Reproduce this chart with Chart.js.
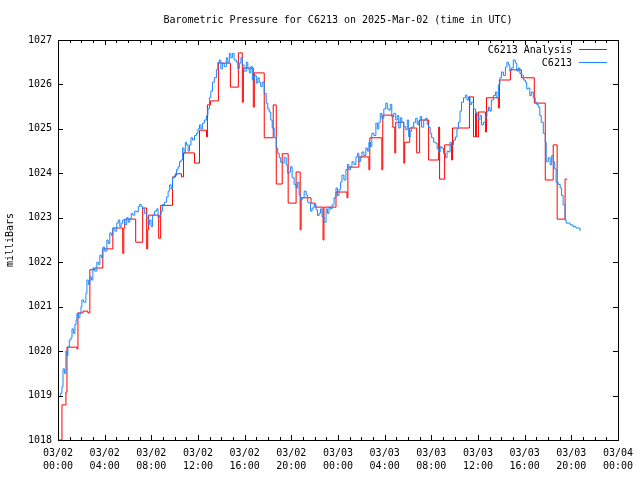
<!DOCTYPE html>
<html>
<head>
<meta charset="utf-8">
<title>Barometric Pressure for C6213</title>
<script src="https://cdn.jsdelivr.net/npm/chart.js@4.4.1/dist/chart.umd.min.js"></script>
<style>
  html, body { margin:0; padding:0; background:#fff; }
  #wrap { width:640px; height:480px; }
</style>
</head>
<body>
<div id="wrap"><canvas id="chart" width="640" height="480"></canvas></div>
<script>
// hours since 2025-03-02 00:00 UTC
const xTickHours = [0, 4, 8, 12, 16, 20, 24, 28, 32, 36, 40, 44, 48];
const xTickDates = ['03/02','03/02','03/02','03/02','03/02','03/02','03/03','03/03','03/03','03/03','03/03','03/03','03/04'];
const xTickTimes = ['00:00','04:00','08:00','12:00','16:00','20:00','00:00','04:00','08:00','12:00','16:00','20:00','00:00'];

// C6213 analysis (step values, hour where each value starts)
const anaHours = [0, 0.34, 0.68, 0.77, 1.62, 1.71, 2.14, 2.56, 2.73, 3.16, 3.84, 4.7, 5.55, 5.64, 5.72,
  6.66, 7.26, 7.6, 7.69, 7.77, 8.63, 8.8, 9.82, 10.08, 10.59, 10.76, 11.7, 12.13, 12.73, 12.81,
  13.07, 13.75, 14.78, 15.46, 15.8, 15.89, 16.74, 16.83, 17.68, 18.45, 18.71, 19.22, 19.73, 20.41,
  20.76, 20.84, 21.69, 22.04, 22.72, 22.8, 23.83, 24.77, 24.85, 25.79, 26.65, 26.73, 27.76, 27.84,
  28.7, 28.87, 28.95, 29.64, 29.72, 30.15, 30.75, 31.0, 31.77, 32.63, 32.71, 33.14, 33.74, 33.82,
  35.27, 35.62, 35.79, 35.87, 36.04, 36.64, 36.73, 37.75, 37.84, 38.78, 39.72, 40.83, 41.77, 42.45,
  42.79, 43.47, 43.65];
const anaPressure = [1018.0, 1018.79, 1019.08, 1020.09, 1020.05, 1020.86, 1020.9, 1020.86, 1021.83, 1021.87, 1022.3, 1022.77, 1022.2, 1022.77, 1022.97,
  1022.45, 1023.22, 1022.3, 1022.73, 1023.06, 1022.54, 1023.28, 1023.92, 1023.99, 1023.92, 1024.46, 1024.23, 1024.97, 1024.82, 1025.54,
  1025.63, 1026.48, 1025.94, 1026.71, 1025.6, 1026.37, 1025.49, 1026.26, 1024.8, 1025.54, 1023.76, 1024.44, 1023.33, 1024.03,
  1022.73, 1023.45, 1023.33, 1023.24, 1022.5, 1023.24, 1023.58, 1023.45, 1024.14, 1024.37, 1024.08, 1024.8, 1024.08, 1025.31,
  1025.04, 1024.46, 1025.15, 1024.23, 1024.7, 1025.02, 1024.46, 1025.2, 1024.3, 1025.04, 1023.87, 1024.64, 1024.3, 1025.02,
  1025.72, 1024.82, 1025.36, 1024.82, 1025.38, 1024.93, 1025.7, 1025.47, 1026.1, 1026.33, 1026.15, 1025.58, 1023.85, 1024.64,
  1022.97, 1023.87, 1023.87];

// C6213 observations
const obsHours = [0.09, 0.2, 0.34, 0.43, 0.55, 0.68, 0.77, 0.85, 0.97, 1.11, 1.2, 1.32, 1.45, 1.55, 1.62, 1.75, 1.88, 1.97,
  2.05, 2.2, 2.39, 2.48, 2.6, 2.73, 2.86, 2.99, 3.15, 3.33, 3.46, 3.59, 3.72, 3.84, 4.0, 4.19, 4.3, 4.44, 4.57, 4.7,
  4.87, 5.04, 5.17, 5.3, 5.42, 5.55, 5.72, 5.89, 6.02, 6.15, 6.28, 6.41, 6.58, 6.75, 6.88, 7.0, 7.13, 7.26, 7.43,
  7.6, 7.73, 7.86, 7.98, 8.11, 8.28, 8.46, 8.58, 8.71, 8.84, 8.97, 9.14, 9.31, 9.44, 9.57, 9.7, 9.82, 9.99, 10.16,
  10.29, 10.42, 10.55, 10.68, 10.8, 10.92, 11.02, 11.15, 11.27, 11.4, 11.53, 11.7, 11.87, 12.0, 12.13, 12.25, 12.38,
  12.55, 12.73, 12.85, 12.98, 13.1, 13.24, 13.4, 13.58, 13.7, 13.84, 13.96, 14.09, 14.25, 14.43, 14.55, 14.69, 14.82,
  14.95, 15.1, 15.29, 15.42, 15.54, 15.68, 15.8, 15.95, 16.14, 16.27, 16.4, 16.53, 16.66, 16.83, 17.0, 17.13, 17.25,
  17.38, 17.51, 17.68, 17.85, 17.98, 18.11, 18.24, 18.36, 18.53, 18.71, 18.83, 18.96, 19.09, 19.22, 19.39, 19.56,
  19.69, 19.82, 19.94, 20.07, 20.24, 20.41, 20.54, 20.67, 20.8, 20.93, 21.1, 21.27, 21.4, 21.52, 21.65, 21.78, 21.95,
  22.12, 22.25, 22.38, 22.5, 22.63, 22.8, 22.98, 23.1, 23.23, 23.36, 23.49, 23.66, 23.83, 23.96, 24.09, 24.22, 24.34,
  24.51, 24.68, 24.81, 24.94, 25.07, 25.2, 25.37, 25.54, 25.67, 25.79, 25.92, 26.05, 26.22, 26.39, 26.52, 26.65,
  26.78, 26.9, 27.08, 27.25, 27.38, 27.5, 27.63, 27.76, 27.93, 28.1, 28.23, 28.36, 28.48, 28.61, 28.78, 28.95, 29.08,
  29.21, 29.34, 29.47, 29.64, 29.81, 29.94, 30.06, 30.19, 30.32, 30.49, 30.66, 30.79, 30.92, 31.05, 31.17, 31.35,
  31.52, 31.65, 31.77, 31.9, 32.03, 32.2, 32.37, 32.5, 32.63, 32.76, 32.88, 33.05, 33.22, 33.35, 33.48, 33.61, 33.74,
  33.91, 34.08, 34.2, 34.33, 34.46, 34.59, 34.76, 34.93, 35.06, 35.19, 35.32, 35.45, 35.62, 35.79, 35.92, 36.04,
  36.17, 36.3, 36.47, 36.64, 36.77, 36.9, 37.02, 37.15, 37.32, 37.5, 37.62, 37.75, 37.88, 38.01, 38.18, 38.35, 38.48,
  38.61, 38.73, 38.86, 39.03, 39.2, 39.33, 39.46, 39.59, 39.72, 39.89, 40.06, 40.18, 40.31, 40.44, 40.57, 40.74,
  40.91, 41.04, 41.17, 41.3, 41.42, 41.6, 41.77, 41.85, 42.02, 42.19, 42.32, 42.45, 42.58, 42.7, 42.88, 43.05, 43.17,
  43.3, 43.47, 43.56, 43.73, 43.9, 44.15, 44.41, 44.75];
const obsPressure = [1018.97, 1019.05, 1019.2, 1019.6, 1019.5, 1020.0, 1019.9, 1020.1, 1020.25, 1020.3, 1020.5, 1020.4, 1020.6, 1020.7, 1020.85, 1020.75, 1020.85, 1021.0,
  1021.15, 1021.1, 1021.3, 1021.6, 1021.5, 1021.67, 1021.6, 1021.87, 1021.8, 1022.0, 1021.95, 1022.16, 1022.1, 1022.34, 1022.25, 1022.5, 1022.42, 1022.66, 1022.6, 1022.77,
  1022.7, 1022.88, 1022.95, 1022.8, 1022.88, 1022.95, 1022.85, 1023.0, 1022.9, 1022.98, 1023.1, 1023.06, 1023.15, 1023.13, 1023.25, 1023.3, 1023.25, 1023.2, 1023.1,
  1023.0, 1022.85, 1022.95, 1022.8, 1023.06, 1023.15, 1023.2, 1023.0, 1023.06, 1023.15, 1023.3, 1023.35, 1023.47, 1023.6, 1023.74, 1023.65, 1023.9, 1023.95, 1024.08,
  1024.15, 1024.26, 1024.3, 1024.57, 1024.45, 1024.7, 1024.64, 1024.5, 1024.64, 1024.8, 1024.75, 1024.85, 1024.9, 1025.0, 1025.09, 1025.0, 1025.13,
  1025.2, 1025.3, 1025.45, 1025.7, 1025.85, 1026.05, 1026.15, 1026.33, 1026.5, 1026.55, 1026.35, 1026.48, 1026.4, 1026.6, 1026.5, 1026.7, 1026.6,
  1026.7, 1026.55, 1026.5, 1026.35, 1026.48, 1026.6, 1026.44, 1026.3, 1026.5, 1026.35, 1026.26, 1026.4, 1026.1, 1026.2, 1026.03, 1026.15, 1026.05,
  1025.95, 1026.05, 1025.8, 1025.58, 1025.45, 1025.38, 1025.2, 1025.02, 1024.8, 1024.57, 1024.45, 1024.35, 1024.25, 1024.23, 1024.35, 1024.19,
  1024.0, 1024.03, 1024.15, 1023.9, 1023.75, 1023.67, 1023.8, 1023.51, 1023.4, 1023.45, 1023.6, 1023.51, 1023.35, 1023.33, 1023.15, 1023.22, 1023.3,
  1023.18, 1023.05, 1023.1, 1023.2, 1023.02, 1022.9, 1023.2, 1023.1, 1023.24, 1023.2, 1023.29, 1023.45, 1023.67, 1023.5, 1023.63, 1023.8, 1023.96,
  1023.85, 1024.08, 1024.2, 1024.08, 1024.15, 1024.26, 1024.2, 1024.37, 1024.45, 1024.26, 1024.35, 1024.48, 1024.4, 1024.57, 1024.5, 1024.7,
  1024.6, 1024.9, 1024.85, 1025.13, 1025.0, 1025.15, 1025.35, 1025.24, 1025.45, 1025.58, 1025.45, 1025.42, 1025.55, 1025.27, 1025.35, 1025.2, 1025.3,
  1025.02, 1025.25, 1025.15, 1025.05, 1024.98, 1025.2, 1024.82, 1024.95, 1025.04, 1025.15, 1025.24, 1025.1, 1025.18, 1025.28, 1025.04, 1025.2,
  1025.24, 1025.1, 1025.04, 1024.9, 1024.8, 1024.7, 1024.68, 1024.55, 1024.48, 1024.6, 1024.57, 1024.45, 1024.35, 1024.5, 1024.48, 1024.7, 1024.64,
  1024.75, 1024.82, 1025.0, 1025.15, 1025.4, 1025.6, 1025.7, 1025.76, 1025.65, 1025.72, 1025.55, 1025.6, 1025.45, 1025.38, 1025.3, 1025.2,
  1025.3, 1025.09, 1025.15, 1025.27, 1025.4, 1025.49, 1025.4, 1025.65, 1025.75, 1025.83, 1025.7, 1025.99, 1026.15, 1026.28, 1026.2, 1026.39, 1026.5,
  1026.44, 1026.3, 1026.37, 1026.55, 1026.48, 1026.3, 1026.37, 1026.25, 1026.21, 1026.1, 1026.05, 1025.9, 1025.92, 1025.75, 1025.83, 1025.7,
  1025.6, 1025.55, 1025.49, 1025.3, 1025.15, 1024.9, 1024.7, 1024.26, 1024.35, 1024.19, 1024.4, 1024.26, 1024.1, 1023.8, 1023.75, 1023.67, 1023.5,
  1023.29, 1022.95, 1022.88, 1022.88, 1022.84, 1022.8, 1022.77, 1022.7];

const FONT = '"DejaVu Sans Mono", monospace';
const RED = '#ff0000';
const BLUE = '#1a88ff';

const toPoints = (xs, ys) => xs.map((x, i) => ({ x: x, y: ys[i] }));

// title, y label, legend, frame and inward tics, gnuplot style
const gnuplotDecor = {
  id: 'gnuplotDecor',
  afterDraw(chart) {
    const { ctx, chartArea: a, scales } = chart;
    ctx.save();
    ctx.fillStyle = '#000';
    ctx.font = '10px ' + FONT;
    ctx.textAlign = 'center';
    ctx.textBaseline = 'middle';
    ctx.fillText('Barometric Pressure for C6213 on 2025-Mar-02 (time in UTC)', (a.left + a.right) / 2, 20);

    ctx.save();
    ctx.translate(10, (a.top + a.bottom) / 2);
    ctx.rotate(-Math.PI / 2);
    ctx.fillText('milliBars', 0, 0);
    ctx.restore();

    ctx.strokeStyle = '#000';
    ctx.lineWidth = 1;
    ctx.beginPath();
    for (let h = 0; h <= 48; h++) {
      const x = Math.round(scales.x.getPixelForValue(h)) + 0.5;
      const len = h % 4 === 0 ? 5 : 3;
      ctx.moveTo(x, a.bottom); ctx.lineTo(x, a.bottom - len);
      ctx.moveTo(x, a.top); ctx.lineTo(x, a.top + len);
    }
    for (let p = 1018; p <= 1027; p++) {
      const y = Math.round(scales.y.getPixelForValue(p)) + 0.5;
      ctx.moveTo(a.left, y); ctx.lineTo(a.left + 5, y);
      ctx.moveTo(a.right, y); ctx.lineTo(a.right - 5, y);
    }
    ctx.stroke();
    ctx.strokeRect(Math.round(a.left) + 0.5, Math.round(a.top) + 0.5,
      Math.round(a.right - a.left), Math.round(a.bottom - a.top));

    // legend
    ctx.textAlign = 'right';
    chart.data.datasets.slice().reverse().forEach((ds, i) => {
      const y = a.top + 10 + i * 13;
      ctx.fillStyle = '#000';
      ctx.fillText(ds.label, a.right - 46, y);
      ctx.strokeStyle = ds.borderColor;
      ctx.beginPath();
      ctx.moveTo(a.right - 39, y - 0.5);
      ctx.lineTo(a.right - 11, y - 0.5);
      ctx.stroke();
    });
    ctx.restore();
  }
};

new Chart(document.getElementById('chart'), {
  type: 'line',
  data: {
    datasets: [
      {
        label: 'C6213',
        data: toPoints(obsHours, obsPressure),
        borderColor: BLUE,
        borderWidth: 1,
        pointRadius: 0,
        stepped: true,
        fill: false
      },
      {
        label: 'C6213 Analysis',
        data: toPoints(anaHours, anaPressure),
        borderColor: RED,
        borderWidth: 1,
        pointRadius: 0,
        stepped: true,
        fill: false
      }
    ]
  },
  options: {
    responsive: false,
    animation: false,
    devicePixelRatio: 1,
    layout: { padding: { top: 40, right: 20, left: 0, bottom: 0 } },
    plugins: {
      legend: { display: false },
      tooltip: { enabled: false },
      title: { display: false }
    },
    scales: {
      x: {
        type: 'linear',
        min: 0,
        max: 48,
        afterFit: s => { s.height = 40; },
        afterBuildTicks: s => { s.ticks = xTickHours.map(v => ({ value: v })); },
        grid: { display: false, drawTicks: false },
        border: { display: false },
        ticks: {
          autoSkip: false,
          maxRotation: 0,
          padding: 7,
          color: '#000',
          font: { family: FONT, size: 10, lineHeight: 1.3 },
          callback: (v) => {
            const i = xTickHours.indexOf(v);
            return [xTickDates[i], xTickTimes[i]];
          }
        }
      },
      y: {
        min: 1018,
        max: 1027,
        afterFit: s => { s.width = 58; },
        grid: { display: false, drawTicks: false },
        border: { display: false },
        ticks: {
          stepSize: 1,
          padding: 6,
          color: '#000',
          font: { family: FONT, size: 10 },
          callback: v => String(v)
        }
      }
    }
  },
  plugins: [gnuplotDecor]
});
</script>
</body>
</html>
